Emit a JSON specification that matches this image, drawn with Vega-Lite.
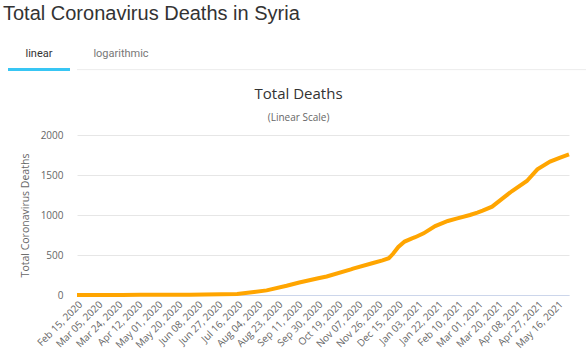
{
  "$schema": "https://vega.github.io/schema/vega-lite/v6.json",
  "background": "white",
  "padding": {"left": 3, "top": 4, "right": 0, "bottom": 0},
  "title": {"text": "Total Coronavirus Deaths in Syria", "anchor": "start", "font": "Liberation Sans", "fontSize": 20, "fontWeight": "normal", "color": "#333333", "dx": -5, "offset": 19},
  "config": {"view": {"stroke": null}},
  "spacing": 16,
  "vconcat": [
    {
      "width": 509,
      "height": 28,
      "data": {"values": [{"tab": "linear", "active": true}, {"tab": "logarithmic", "active": false}]},
      "layer": [
        {
          "mark": {"type": "rule", "color": "#eeeeee", "strokeWidth": 1},
          "encoding": {"y": {"datum": 0.05, "type": "quantitative", "scale": {"domain": [0, 1], "nice": false, "zero": false}, "axis": null}}
        },
        {
          "transform": [{"filter": "datum.active"}],
          "mark": {"type": "rect", "color": "#38c6f4"},
          "encoding": {
            "x": {"field": "tab", "type": "nominal", "sort": null, "scale": {"domain": ["linear", "logarithmic"], "range": [-69, 75], "paddingInner": 0.244, "paddingOuter": 0, "align": 0}, "axis": null},
            "y": {"datum": 0, "type": "quantitative"},
            "y2": {"datum": 0.107}
          }
        },
        {
          "mark": {"type": "text", "font": "Roboto", "fontSize": 11, "baseline": "middle"},
          "encoding": {
            "x": {"field": "tab", "type": "nominal", "sort": null, "axis": null},
            "y": {"datum": 0.6, "type": "quantitative"},
            "text": {"field": "tab"},
            "color": {"condition": {"test": "datum.active", "value": "#333333"}, "value": "#777777"}
          }
        }
      ]
    },
    {
      "width": 492,
      "height": 160,
      "title": {"text": "Total Deaths", "subtitle": "(Linear Scale)", "anchor": "middle", "frame": "bounds", "font": "Open Sans", "fontSize": 15, "fontWeight": "normal", "color": "#333333", "subtitleFont": "Open Sans", "subtitleFontSize": 10, "subtitleColor": "#666666", "subtitlePadding": 11, "offset": 7},
      "data": {"values": [
        {"date": "2020-02-15", "deaths": 0},
        {"date": "2020-03-01", "deaths": 0},
        {"date": "2020-03-15", "deaths": 0},
        {"date": "2020-03-29", "deaths": 1},
        {"date": "2020-04-15", "deaths": 3},
        {"date": "2020-05-01", "deaths": 3},
        {"date": "2020-05-15", "deaths": 4},
        {"date": "2020-06-01", "deaths": 4},
        {"date": "2020-06-15", "deaths": 7},
        {"date": "2020-07-01", "deaths": 9},
        {"date": "2020-07-16", "deaths": 14},
        {"date": "2020-08-01", "deaths": 38},
        {"date": "2020-08-13", "deaths": 58},
        {"date": "2020-09-01", "deaths": 115},
        {"date": "2020-09-13", "deaths": 156},
        {"date": "2020-10-01", "deaths": 209},
        {"date": "2020-10-09", "deaths": 232},
        {"date": "2020-11-01", "deaths": 321},
        {"date": "2020-11-03", "deaths": 330},
        {"date": "2020-11-22", "deaths": 400},
        {"date": "2020-12-01", "deaths": 433},
        {"date": "2020-12-07", "deaths": 460},
        {"date": "2020-12-11", "deaths": 515},
        {"date": "2020-12-16", "deaths": 600},
        {"date": "2020-12-22", "deaths": 668},
        {"date": "2020-12-29", "deaths": 708},
        {"date": "2021-01-01", "deaths": 722},
        {"date": "2021-01-09", "deaths": 771},
        {"date": "2021-01-20", "deaths": 862},
        {"date": "2021-02-01", "deaths": 925},
        {"date": "2021-02-10", "deaths": 958},
        {"date": "2021-02-22", "deaths": 1000},
        {"date": "2021-03-01", "deaths": 1030},
        {"date": "2021-03-06", "deaths": 1054},
        {"date": "2021-03-15", "deaths": 1104},
        {"date": "2021-03-25", "deaths": 1208},
        {"date": "2021-04-03", "deaths": 1300},
        {"date": "2021-04-17", "deaths": 1425},
        {"date": "2021-04-27", "deaths": 1571},
        {"date": "2021-05-09", "deaths": 1667},
        {"date": "2021-05-18", "deaths": 1715},
        {"date": "2021-05-27", "deaths": 1758}
      ]},
      "mark": {"type": "line", "color": "#ffa500", "strokeWidth": 4},
      "encoding": {
        "x": {
          "field": "date", "type": "temporal",
          "scale": {"type": "utc", "nice": false},
          "axis": {
            "values": [
              {"year": 2020, "month": 2, "date": 15, "utc": true},
              {"year": 2020, "month": 3, "date": 5, "utc": true},
              {"year": 2020, "month": 3, "date": 24, "utc": true},
              {"year": 2020, "month": 4, "date": 12, "utc": true},
              {"year": 2020, "month": 5, "date": 1, "utc": true},
              {"year": 2020, "month": 5, "date": 20, "utc": true},
              {"year": 2020, "month": 6, "date": 8, "utc": true},
              {"year": 2020, "month": 6, "date": 27, "utc": true},
              {"year": 2020, "month": 7, "date": 16, "utc": true},
              {"year": 2020, "month": 8, "date": 4, "utc": true},
              {"year": 2020, "month": 8, "date": 23, "utc": true},
              {"year": 2020, "month": 9, "date": 11, "utc": true},
              {"year": 2020, "month": 9, "date": 30, "utc": true},
              {"year": 2020, "month": 10, "date": 19, "utc": true},
              {"year": 2020, "month": 11, "date": 7, "utc": true},
              {"year": 2020, "month": 11, "date": 26, "utc": true},
              {"year": 2020, "month": 12, "date": 15, "utc": true},
              {"year": 2021, "month": 1, "date": 3, "utc": true},
              {"year": 2021, "month": 1, "date": 22, "utc": true},
              {"year": 2021, "month": 2, "date": 10, "utc": true},
              {"year": 2021, "month": 3, "date": 1, "utc": true},
              {"year": 2021, "month": 3, "date": 20, "utc": true},
              {"year": 2021, "month": 4, "date": 8, "utc": true},
              {"year": 2021, "month": 4, "date": 27, "utc": true},
              {"year": 2021, "month": 5, "date": 16, "utc": true}
            ],
            "labelExpr": "utcFormat(datum.value, '%b %d, %Y')",
            "labelAngle": -45,
            "labelFont": "Open Sans",
            "labelFontSize": 10,
            "labelColor": "#666666",
            "labelPadding": 4,
            "labelOverlap": false,
            "labelFlush": false,
            "ticks": false,
            "grid": false,
            "domainColor": "#ccd6eb",
            "title": null
          }
        },
        "y": {
          "field": "deaths", "type": "quantitative",
          "scale": {"domain": [0, 2000], "nice": false},
          "axis": {
            "values": [0, 500, 1000, 1500, 2000],
            "format": "d",
            "title": "Total Coronavirus Deaths",
            "titleFont": "Open Sans",
            "titleFontSize": 10.5,
            "titleFontWeight": "normal",
            "titleColor": "#666666",
            "titlePadding": 10,
            "labelFont": "Open Sans",
            "labelFontSize": 10,
            "labelColor": "#666666",
            "labelPadding": 14,
            "ticks": false,
            "domain": false,
            "gridColor": "#e6e6e6"
          }
        }
      }
    }
  ]
}
